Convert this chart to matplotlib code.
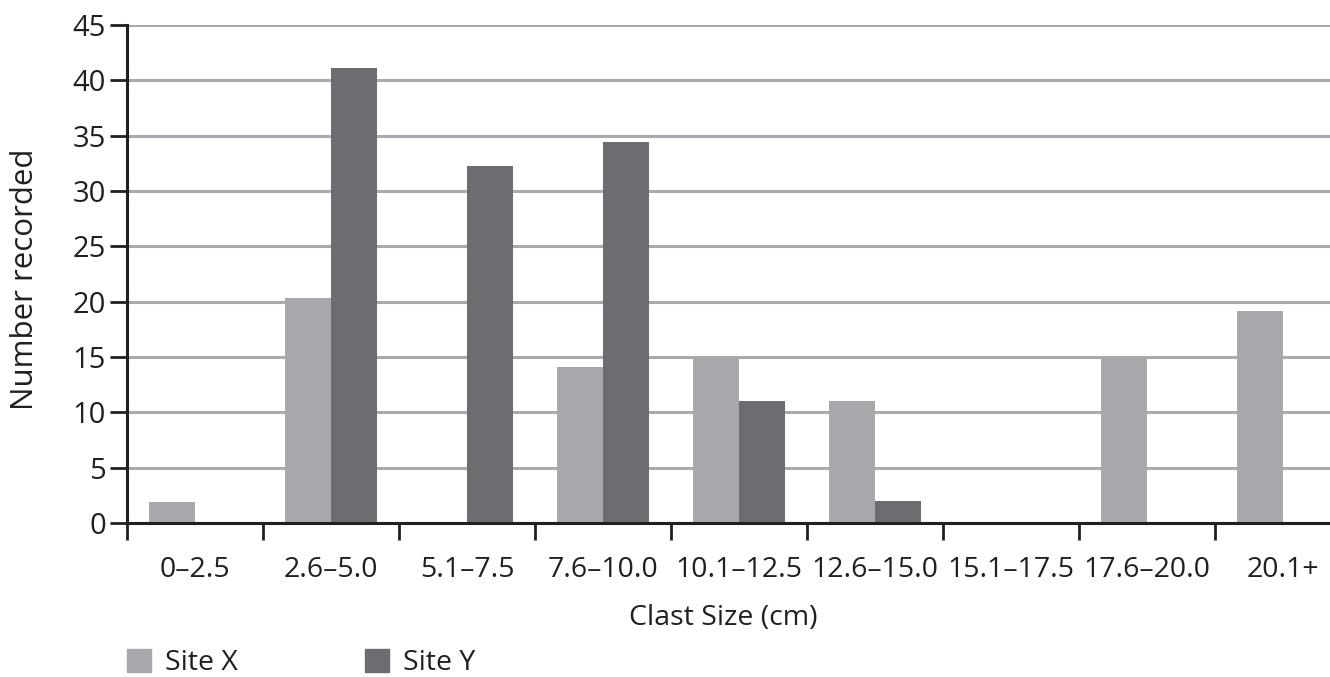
import numpy as np
import matplotlib.pyplot as plt
from matplotlib.patches import Patch

plt.rcParams["font.family"] = ["Open Sans", "DejaVu Sans"]

# data
categories = ["0\u20132.5", "2.6\u20135.0", "5.1\u20137.5", "7.6\u201310.0",
              "10.1\u201312.5", "12.6\u201315.0", "15.1\u201317.5",
              "17.6\u201320.0", "20.1+"]
site_x = [1.9, 20.3, 0, 14.1, 15, 11, 0, 15, 19.2]
site_y = [0, 41.1, 32.3, 34.4, 11, 2, 0, 0, 0]
y_ticks = [0, 5, 10, 15, 20, 25, 30, 35, 40, 45]

color_x = "#a7a8ab"
color_y = "#6c6d70"
grid_color = "#a9aaad"
axis_color = "#231f20"

fig = plt.figure(figsize=(13.3, 6.77), dpi=100)
# axes run a little past the right edge, like the cropped original
ax = fig.add_axes([127 / 1330, 1 - 523 / 677, 1224 / 1330, 498 / 677])

pos = np.arange(len(categories))
width = 0.34
ax.bar(pos - width / 2, site_x, width, color=color_x, zorder=3)
ax.bar(pos + width / 2, site_y, width, color=color_y, zorder=3)

ax.set_xlim(-0.5, len(categories) - 0.5)
ax.set_ylim(0, 45)
ax.set_yticks(y_ticks)
ax.yaxis.grid(True, color=grid_color, linewidth=2.2, zorder=0)
ax.set_axisbelow(True)

# category ticks sit between groups, labels at the centres
ax.set_xticks(np.arange(len(categories) + 1) - 0.5)
ax.set_xticklabels([])
ax.set_xticks(pos, minor=True)
ax.set_xticklabels(categories, minor=True, fontsize=20.5)
ax.tick_params(axis="x", which="minor", length=0, pad=24, colors=axis_color)
ax.tick_params(axis="x", which="major", length=12, width=2, color=axis_color)
ax.tick_params(axis="y", length=12, width=2, color=axis_color,
               labelsize=21, labelcolor=axis_color, pad=3)

for side in ["top", "right"]:
    ax.spines[side].set_visible(False)
for side in ["left", "bottom"]:
    ax.spines[side].set_color(axis_color)
    ax.spines[side].set_linewidth(2.2)
    ax.spines[side].set_zorder(4)

ax.set_xlabel("Clast Size (cm)", fontsize=20.5, color=axis_color)
ax.set_ylabel("Number recorded", fontsize=22.5, color=axis_color)
ax.xaxis.set_label_coords((723 - 127) / 1224, -(604 - 523) / 498)
ax.yaxis.set_label_coords(-(127 - 40) / 1224, 0.49)

handles = [Patch(color=color_x, label="Site X"), Patch(color=color_y, label="Site Y")]
fig.legend(handles=handles, loc="center left", bbox_to_anchor=(118 / 1330, 1 - 663 / 677),
           ncol=2, frameon=False, fontsize=20.5, handlelength=0.85, handleheight=0.85,
           handletextpad=0.5, columnspacing=4.45, labelcolor=axis_color,
           borderaxespad=0, borderpad=0.3)

plt.savefig("out.png", dpi=100)
plt.close()
